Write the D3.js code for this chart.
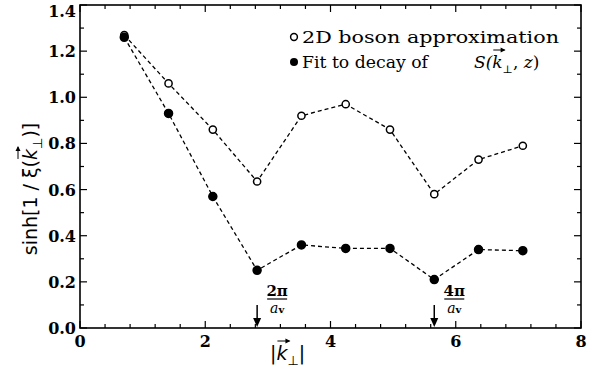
<!DOCTYPE html>
<html>
<head>
<script src="https://d3js.org/d3.v7.min.js"></script>
<style>
  body { margin: 0; background: #fff; }
  svg text { fill: #000; }
  .tick-label { font-family: 'DejaVu Serif', serif; font-weight: bold; font-size: 16px; }
  .legend { font-family: 'DejaVu Serif', serif; font-size: 17px; }
</style>
</head>
<body>
<div id="chart"></div>
<script>
  // k values (multiples of pi / (2 a_v))
  var kValues = [0.707, 1.414, 2.121, 2.828, 3.536, 4.243, 4.950, 5.657, 6.364, 7.071];
  var bosonValues = [1.27, 1.06, 0.86, 0.635, 0.92, 0.97, 0.86, 0.58, 0.73, 0.79];
  var fitValues = [1.26, 0.93, 0.57, 0.25, 0.36, 0.345, 0.345, 0.21, 0.34, 0.335];
  var xTicks = [0, 2, 4, 6, 8];
  var yTicks = [0.0, 0.2, 0.4, 0.6, 0.8, 1.0, 1.2, 1.4];
  var markers = [{k: 2 * Math.PI / 2.2214, num: "2π"}, {k: 4 * Math.PI / 2.2214, num: "4π"}];

  var W = 595, H = 372;
  var margin = {left: 80, right: 14, top: 5, bottom: 44};

  var svg = d3.select("#chart").append("svg").attr("width", W).attr("height", H);

  var x = d3.scaleLinear().domain([0, 8]).range([margin.left, W - margin.right]);
  var y = d3.scaleLinear().domain([0, 1.4]).range([H - margin.bottom, margin.top]);

  var x0 = x.range()[0], x1 = x.range()[1], y0 = y.range()[0], y1 = y.range()[1];

  // frame
  svg.append("rect")
    .attr("x", x0).attr("y", y1).attr("width", x1 - x0).attr("height", y0 - y1)
    .attr("fill", "none").attr("stroke", "#000").attr("stroke-width", 1.6);

  // ticks, inward on all four sides
  var ticks = svg.append("g").attr("stroke", "#000").attr("stroke-width", 1.2);
  d3.range(0, 8.01, 0.4).forEach(function(v) {
    var major = xTicks.indexOf(Math.round(v * 10) / 10) >= 0;
    var len = major ? 7 : 4;
    ticks.append("line").attr("x1", x(v)).attr("x2", x(v)).attr("y1", y0).attr("y2", y0 - len);
    ticks.append("line").attr("x1", x(v)).attr("x2", x(v)).attr("y1", y1).attr("y2", y1 + len);
  });
  d3.range(0, 1.401, 0.1).forEach(function(v) {
    var major = Math.round(v * 10) % 2 === 0;
    var len = major ? 7 : 4;
    ticks.append("line").attr("y1", y(v)).attr("y2", y(v)).attr("x1", x0).attr("x2", x0 + len);
    ticks.append("line").attr("y1", y(v)).attr("y2", y(v)).attr("x1", x1).attr("x2", x1 - len);
  });

  // tick labels
  svg.selectAll(".xt").data(xTicks).enter().append("text")
    .attr("class", "tick-label")
    .attr("x", function(d) { return x(d); })
    .attr("y", y0 + 19)
    .attr("text-anchor", "middle")
    .text(function(d) { return d; });

  svg.selectAll(".yt").data(yTicks).enter().append("text")
    .attr("class", "tick-label")
    .attr("x", x0 - 4)
    .attr("y", function(d) { return Math.max(y(d) + 6, 17); })
    .attr("text-anchor", "end")
    .text(function(d) { return d.toFixed(1); });

  // draws an arrow over a character of a text element
  function vecArrow(parent, textEl, charIndex, lift) {
    var box = textEl.node().getExtentOfChar(charIndex);
    var ax0 = box.x + 1, ax1 = box.x + box.width + 2, ay = box.y - lift;
    parent.append("line").attr("x1", ax0).attr("x2", ax1).attr("y1", ay).attr("y2", ay)
      .attr("stroke", "#000").attr("stroke-width", 1);
    parent.append("path")
      .attr("d", "M" + (ax1 - 4) + "," + (ay - 2.5) + "L" + (ax1 + 1) + "," + ay + "L" + (ax1 - 4) + "," + (ay + 2.5) + "Z")
      .attr("fill", "#000");
  }

  // x axis title |k_perp|
  var xt = svg.append("text")
    .attr("x", 270).attr("y", 360)
    .style("font-family", "'DejaVu Sans', sans-serif").style("font-size", "19px");
  xt.append("tspan").text("|");
  xt.append("tspan").style("font-style", "italic").text("k");
  xt.append("tspan").attr("dy", 5).style("font-size", "13px").text("⊥");
  xt.append("tspan").attr("dy", -5).text("|");
  vecArrow(svg, xt, 1, 1);

  // y axis title
  var yg = svg.append("g").attr("transform", "translate(37," + 189 + ") rotate(-90)");
  var ytl = yg.append("text").attr("text-anchor", "middle")
    .style("font-family", "'DejaVu Sans', sans-serif").style("font-size", "19px");
  ytl.append("tspan").text("sinh[1 / ξ(");
  ytl.append("tspan").style("font-style", "italic").text("k");
  ytl.append("tspan").attr("dy", 5).style("font-size", "13px").text("⊥");
  ytl.append("tspan").attr("dy", -5).text(")]");
  vecArrow(yg, ytl, 11, 1);

  // data series
  var series = [
    {values: bosonValues, filled: false},
    {values: fitValues, filled: true}
  ];
  var line = d3.line().x(function(d) { return x(d[0]); }).y(function(d) { return y(d[1]); });

  series.forEach(function(s) {
    var pts = kValues.map(function(k, i) { return [k, s.values[i]]; });
    svg.append("path").datum(pts)
      .attr("d", line)
      .attr("fill", "none").attr("stroke", "#000")
      .attr("stroke-width", 1.3).attr("stroke-dasharray", "4,3");
    svg.append("g").selectAll("circle").data(pts).enter().append("circle")
      .attr("cx", function(d) { return x(d[0]); })
      .attr("cy", function(d) { return y(d[1]); })
      .attr("r", s.filled ? 4 : 3.6)
      .attr("fill", s.filled ? "#000" : "#fff")
      .attr("stroke", "#000").attr("stroke-width", 1.5);
  });

  // reciprocal lattice markers
  markers.forEach(function(m) {
    var g = svg.append("g");
    var ax = x(m.k);
    g.append("line").attr("x1", ax).attr("x2", ax).attr("y1", 305).attr("y2", y0 - 4)
      .attr("stroke", "#000").attr("stroke-width", 1.5);
    g.append("path").attr("d", "M" + (ax - 4) + "," + (y0 - 10) + "L" + ax + "," + (y0 - 1) + "L" + (ax + 4) + "," + (y0 - 10) + "Z")
      .attr("fill", "#000");
    g.append("text").attr("x", ax + 20).attr("y", 296).attr("text-anchor", "middle")
      .style("font-family", "'DejaVu Serif', serif").style("font-weight", "bold").style("font-size", "15px")
      .text(m.num);
    g.append("line").attr("x1", ax + 10).attr("x2", ax + 30).attr("y1", 299).attr("y2", 299)
      .attr("stroke", "#000").attr("stroke-width", 1.2);
    var d = g.append("text").attr("x", ax + 20).attr("y", 313).attr("text-anchor", "middle")
      .style("font-family", "'DejaVu Serif', serif").style("font-size", "14px");
    d.append("tspan").style("font-style", "italic").text("a");
    d.append("tspan").style("font-size", "10px").style("font-weight", "bold").text("v");
  });

  // legend
  var leg = svg.append("g");
  leg.append("circle").attr("cx", 294).attr("cy", 37).attr("r", 3.4)
    .attr("fill", "#fff").attr("stroke", "#000").attr("stroke-width", 1.5);
  leg.append("text").attr("class", "legend").attr("x", 302).attr("y", 43)
    .attr("textLength", 257).attr("lengthAdjust", "spacingAndGlyphs").text("2D boson approximation");
  leg.append("circle").attr("cx", 294).attr("cy", 62).attr("r", 4).attr("fill", "#000");
  leg.append("text").attr("class", "legend").attr("x", 302).attr("y", 68)
    .attr("textLength", 126).attr("lengthAdjust", "spacingAndGlyphs").text("Fit to decay of");
  var st = leg.append("text").attr("class", "legend").attr("x", 474).attr("y", 68)
    .style("font-style", "italic");
  st.append("tspan").text("S(");
  st.append("tspan").text("k");
  st.append("tspan").attr("dy", 5).style("font-size", "11px").style("font-style", "normal").text("⊥");
  st.append("tspan").attr("dy", -5).style("font-style", "normal").text(", ");
  st.append("tspan").text("z");
  st.append("tspan").style("font-style", "normal").text(")");
  vecArrow(leg, st, 2, 2);
</script>
</body>
</html>
